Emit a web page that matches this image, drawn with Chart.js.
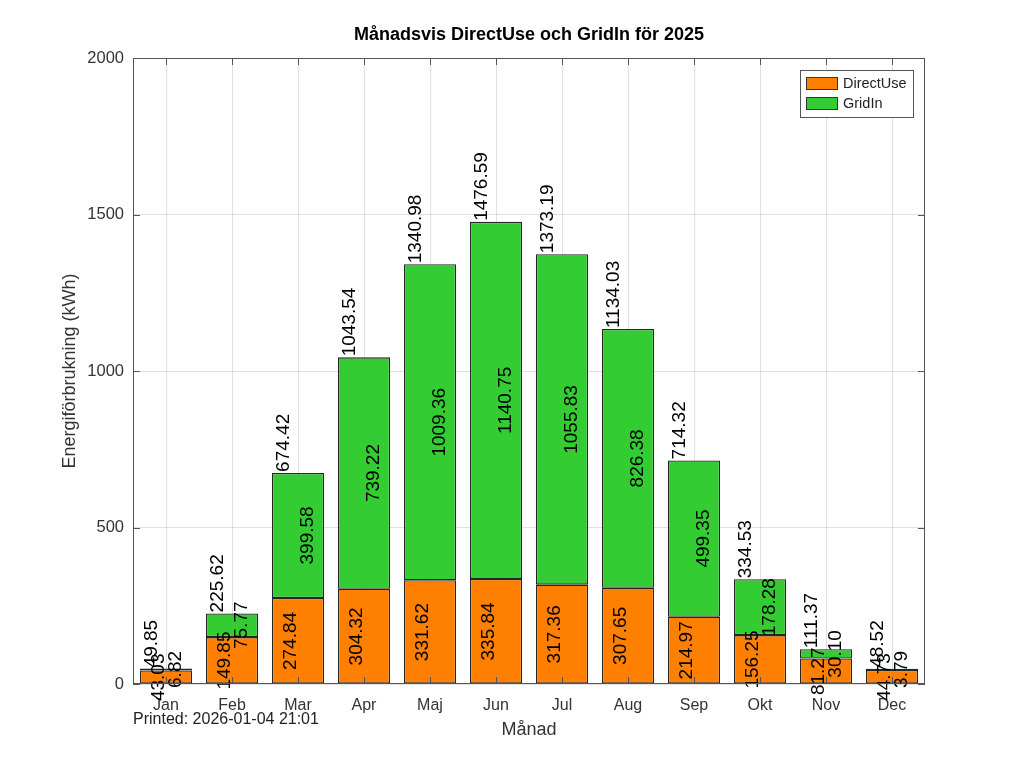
<!DOCTYPE html>
<html>
<head>
<meta charset="utf-8">
<script src="https://cdn.jsdelivr.net/npm/chart.js@4/dist/chart.umd.min.js"></script>
<style>
  body { margin: 0; background: #fff; }
  #wrap { width: 1024px; height: 768px; }
</style>
</head>
<body>
<div id="wrap"><canvas id="myChart" width="1024" height="768"></canvas></div>
<script>
var months = ['Jan', 'Feb', 'Mar', 'Apr', 'Maj', 'Jun', 'Jul', 'Aug', 'Sep', 'Okt', 'Nov', 'Dec'];
var directUse = [43.03, 149.85, 274.84, 304.32, 331.62, 335.84, 317.36, 307.65, 214.97, 156.25, 81.27, 44.73];
var gridIn = [6.82, 75.77, 399.58, 739.22, 1009.36, 1140.75, 1055.83, 826.38, 499.35, 178.28, 30.10, 3.79];
var totals = [49.85, 225.62, 674.42, 1043.54, 1340.98, 1476.59, 1373.19, 1134.03, 714.32, 334.53, 111.37, 48.52];
var yTicks = [0, 500, 1000, 1500, 2000];

var titleText = 'Månadsvis DirectUse och GridIn för 2025';
var printedText = 'Printed: 2026-01-04 21:01';
var FONT = '"Liberation Sans", Arial, sans-serif';

// text on the bars, frame, inward ticks, legend, title
var decorations = {
  id: 'decorations',
  afterDraw: function(chart) {
    var ctx = chart.ctx;
    var a = chart.chartArea;
    var xs = chart.scales.x, ys = chart.scales.y;

    // value labels, rotated 90 degrees
    ctx.save();
    ctx.fillStyle = '#000';
    ctx.font = '19px ' + FONT;
    function vtext(txt, x, y, align) {
      ctx.save();
      ctx.translate(x, y);
      ctx.rotate(-Math.PI / 2);
      ctx.textAlign = align;
      ctx.textBaseline = 'middle';
      ctx.fillText(txt, 0, 0);
      ctx.restore();
    }
    for (var i = 0; i < months.length; i++) {
      var cx = xs.getPixelForValue(i);
      vtext(directUse[i].toFixed(2), cx - 7, ys.getPixelForValue(directUse[i] / 2), 'center');
      vtext(gridIn[i].toFixed(2), cx + 10, ys.getPixelForValue(directUse[i] + gridIn[i] / 2), 'center');
      vtext(totals[i].toFixed(2), cx - 14, ys.getPixelForValue(totals[i]) - 1, 'left');
    }
    ctx.restore();

    // frame and inward ticks
    ctx.save();
    ctx.strokeStyle = '#555';
    ctx.lineWidth = 1;
    ctx.strokeRect(a.left + 0.5, a.top + 0.5, a.right - a.left - 1, a.bottom - a.top - 1);
    ctx.beginPath();
    for (var j = 0; j < months.length; j++) {
      var tx = Math.round(xs.getPixelForValue(j)) + 0.5;
      ctx.moveTo(tx, a.bottom); ctx.lineTo(tx, a.bottom - 7);
      ctx.moveTo(tx, a.top); ctx.lineTo(tx, a.top + 7);
    }
    yTicks.forEach(function(v) {
      var ty = Math.round(ys.getPixelForValue(v)) + 0.5;
      ctx.moveTo(a.left, ty); ctx.lineTo(a.left + 7, ty);
      ctx.moveTo(a.right, ty); ctx.lineTo(a.right - 7, ty);
    });
    ctx.stroke();
    ctx.restore();

    // legend box
    ctx.save();
    var lx = 800, ly = 70, lw = 113, lh = 47;
    ctx.fillStyle = '#fff';
    ctx.fillRect(lx, ly, lw, lh);
    ctx.strokeStyle = '#555';
    ctx.strokeRect(lx + 0.5, ly + 0.5, lw, lh);
    ctx.font = '14.5px ' + FONT;
    ctx.textBaseline = 'middle';
    chart.data.datasets.forEach(function(ds, k) {
      var sy = ly + 7 + k * 20;
      ctx.fillStyle = ds.backgroundColor;
      ctx.fillRect(lx + 6, sy, 31, 12);
      ctx.strokeStyle = '#333';
      ctx.strokeRect(lx + 6.5, sy + 0.5, 31, 12);
      ctx.fillStyle = '#222';
      ctx.fillText(ds.label, lx + 43, sy + 7);
    });
    ctx.restore();

    // title and print note
    ctx.save();
    ctx.fillStyle = '#000';
    ctx.font = 'bold 18px ' + FONT;
    ctx.textAlign = 'center';
    ctx.textBaseline = 'middle';
    ctx.fillText(titleText, (a.left + a.right) / 2, 35);
    ctx.font = '16px ' + FONT;
    ctx.fillStyle = '#222';
    ctx.textAlign = 'left';
    ctx.fillText(printedText, a.left, 720);
    ctx.restore();
  }
};

var ctx = document.getElementById('myChart').getContext('2d');
var myChart = new Chart(ctx, {
  type: 'bar',
  data: {
    labels: months,
    datasets: [
      {
        label: 'DirectUse',
        data: directUse,
        backgroundColor: '#ff8000',
        borderColor: '#262626',
        borderWidth: 1.3,
        borderSkipped: false
      },
      {
        label: 'GridIn',
        data: gridIn,
        backgroundColor: '#33cc33',
        borderColor: '#262626',
        borderWidth: 1.3,
        borderSkipped: false
      }
    ]
  },
  options: {
    responsive: false,
    animation: false,
    barPercentage: 0.79,
    categoryPercentage: 1.0,
    layout: { padding: { left: 0, top: 58, right: 99, bottom: 0 } },
    plugins: {
      legend: { display: false },
      tooltip: { enabled: false }
    },
    scales: {
      x: {
        stacked: true,
        z: 1,
        afterFit: function(s) { s.height = 84; },
        grid: { offset: false, color: 'rgba(0,0,0,0.12)', drawTicks: false },
        border: { display: false },
        ticks: { padding: 12, color: '#333', font: { family: FONT, size: 16 } },
        title: {
          display: true, text: 'Månad', color: '#333',
          font: { family: FONT, size: 18 }, padding: { top: 0, bottom: 27 }
        }
      },
      y: {
        stacked: true,
        z: 1,
        min: 0,
        max: 2000,
        afterFit: function(s) { s.width = 133; },
        afterBuildTicks: function(s) { s.ticks = yTicks.map(function(v) { return { value: v }; }); },
        grid: { color: 'rgba(0,0,0,0.12)', drawTicks: false },
        border: { display: false },
        ticks: {
          padding: 9, color: '#333', font: { family: FONT, size: 16.5 },
          callback: function(v) { return String(v); }
        },
        title: {
          display: true, text: 'Energiförbrukning (kWh)', color: '#333',
          font: { family: FONT, size: 18 }, padding: { top: 59, bottom: 0 }
        }
      }
    }
  },
  plugins: [decorations]
});
</script>
</body>
</html>
